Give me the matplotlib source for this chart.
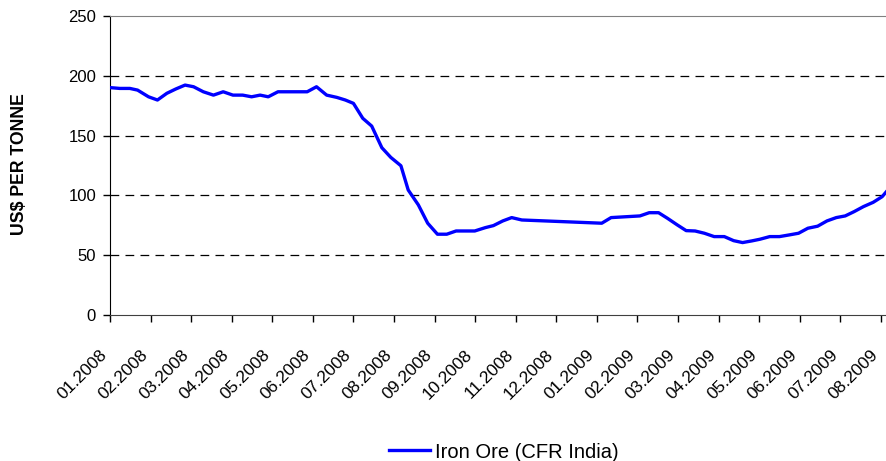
import matplotlib.pyplot as plt
import matplotlib.transforms as mtransforms
import numpy as np

plt.rcParams["font.family"] = ["Liberation Sans", "DejaVu Sans"]

# month labels (tick at each month start)
month_labels = [
    "01.2008", "02.2008", "03.2008", "04.2008", "05.2008", "06.2008",
    "07.2008", "08.2008", "09.2008", "10.2008", "11.2008", "12.2008",
    "01.2009", "02.2009", "03.2009", "04.2009", "05.2009", "06.2009",
    "07.2009", "08.2009",
]

# position in months since 01.2008
months = [
    0.00, 0.24, 0.49, 0.68, 0.95, 1.17, 1.40, 1.62, 1.85, 2.06,
    2.30, 2.55, 2.79, 3.03, 3.27, 3.49, 3.70, 3.90, 4.14, 4.40,
    4.64, 4.86, 5.09, 5.34, 5.59, 5.80, 6.00, 6.23, 6.45, 6.70,
    6.92, 7.17, 7.35, 7.60, 7.83, 8.07, 8.30, 8.53, 8.77, 8.99,
    9.25, 9.45, 9.68, 9.90, 10.15, 12.12, 12.35, 13.06, 13.29, 13.52,
    13.74, 13.98, 14.20, 14.42, 14.65, 14.89, 15.14, 15.37, 15.59, 15.82,
    16.02, 16.26, 16.50, 16.74, 16.97, 17.20, 17.44, 17.67, 17.90, 18.12,
    18.34, 18.57, 18.81, 19.03, 19.15,
]

# iron ore price, US$ per tonne
iron_ore = [
    190.2, 189.5, 189.5, 188.1, 182.5, 179.8, 185.4, 189.0, 192.3, 190.9,
    186.7, 183.9, 186.7, 183.9, 183.9, 182.5, 183.9, 182.5, 186.7, 186.7,
    186.7, 186.7, 190.9, 183.9, 182.0, 179.8, 177.0, 164.5, 158.0, 139.9,
    131.8, 124.8, 104.5, 92.0, 76.7, 67.5, 67.5, 70.2, 70.2, 70.2,
    73.0, 74.7, 78.6, 81.4, 79.4, 76.7, 81.4, 82.8, 85.5, 85.5,
    80.8, 75.3, 70.5, 70.2, 68.3, 65.5, 65.5, 62.1, 60.5, 61.9,
    63.3, 65.5, 65.5, 66.9, 68.3, 72.5, 74.2, 78.6, 81.4, 82.8,
    86.4, 90.6, 94.2, 98.9, 103.7,
]

fig = plt.figure(figsize=(8.87, 4.61), dpi=100)
ax = fig.add_axes([0.124, 0.317, 0.876, 0.648])

line, = ax.plot(months, iron_ore, color="#0000FF", linewidth=2.4,
                solid_joinstyle="round", label="Iron Ore (CFR India)", zorder=3)

ax.set_xlim(0, 19.15)
ax.set_ylim(0, 250)
ax.set_yticks(np.arange(0, 251, 50))
ax.set_xticks(np.arange(len(month_labels)))
ax.set_xticklabels(month_labels, rotation=45, ha="right", va="center",
                   rotation_mode="anchor", fontsize=12.5)
ax.tick_params(axis="y", labelsize=12, length=5, width=1, direction="out", pad=5)
ax.tick_params(axis="x", length=5, width=1, direction="out", pad=22)

# shift x labels a little left of their ticks
shift = mtransforms.ScaledTranslation(-5 / 100, 0, fig.dpi_scale_trans)
for lab in ax.get_xticklabels():
    lab.set_transform(lab.get_transform() + shift)

for v in [50, 100, 150, 200]:
    ax.axhline(v, color="black", linewidth=0.9, dashes=(7, 5), zorder=1)

ax.spines["right"].set_visible(False)
ax.spines["top"].set_color("#808080")
ax.spines["left"].set_color("black")
ax.spines["bottom"].set_color("#404040")

fig.text(20 / 887, 1 - 164 / 461, "US$ PER TONNE", rotation=90, fontsize=12.7,
         fontweight="bold", ha="center", va="center")

fig.legend(handles=[line], loc="center", bbox_to_anchor=(0.568, 1 - 452 / 461),
           frameon=False, fontsize=14.5, handlelength=2.0, handletextpad=0.25,
           borderpad=0)

plt.savefig("out.png", dpi=100)
